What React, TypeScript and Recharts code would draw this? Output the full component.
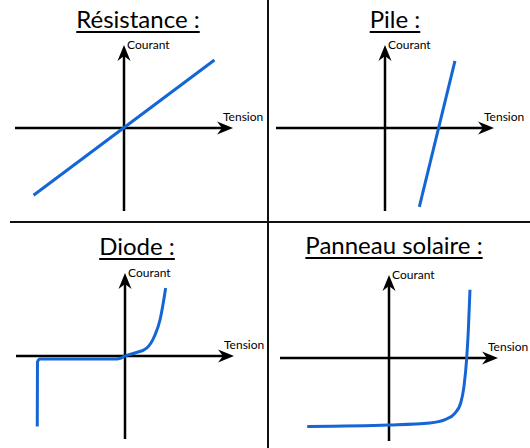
import { LineChart, Line, XAxis, YAxis, ReferenceLine } from 'recharts';

// I-V characteristics, arbitrary units (axes go from -10 to 10)
const resistanceTension = [-8.3, 8.3];
const resistanceCourant = [-8.1, 8.2];

const pileTension = [3.15, 6.42];
const pileCourant = [-9.5, 8.1];

const diodeTension = [-8.05, -8.03, -7.8, -0.76, -0.37, 0, 0.92, 1.99, 2.75, 3.21, 3.51, 3.73];
const diodeCourant = [-8.5, -0.7, -0.36, -0.36, -0.24, 0, 0.36, 0.96, 2.53, 4.34, 6.39, 8.19];

const solaireTension = [-7.5, 0, 3.76, 5.14, 6.06, 6.58, 6.88, 7.13, 7.28, 7.43];
const solaireCourant = [-8.24, -8.07, -7.83, -7.43, -6.63, -5.42, -3.42, 0, 3.41, 8.23];

const titles = ['Résistance :', 'Pile :', 'Diode :', 'Panneau solaire :'];

const BLUE = '#1466d6';
const FONT = 'Lato, "Open Sans", sans-serif';

const toPoints = (t: number[], c: number[]) => t.map((v, i) => ({ tension: v, courant: c[i] }));

type Box = { left: number; top: number; width: number; height: number };

function Arrow(props: any) {
  const { x1, y1, x2, y2, horizontal } = props;
  if (horizontal) {
    const tip = Math.max(x1, x2);
    const start = Math.min(x1, x2);
    const y = y1;
    return (
      <g>
        <line x1={start} y1={y} x2={tip - 8} y2={y} stroke="#000" strokeWidth={2.5} />
        <polygon points={`${tip},${y} ${tip - 16},${y - 6.5} ${tip - 11},${y} ${tip - 16},${y + 6.5}`} fill="#000" />
        <text x={tip - 10} y={y - 10} fontSize={12} fontFamily={FONT} fill="#000" dominantBaseline="middle">
          Tension
        </text>
      </g>
    );
  }
  const tip = Math.min(y1, y2);
  const end = Math.max(y1, y2);
  const x = x1;
  return (
    <g>
      <line x1={x} y1={end} x2={x} y2={tip + 8} stroke="#000" strokeWidth={2.5} />
      <polygon points={`${x},${tip} ${x - 6.5},${tip + 16} ${x},${tip + 11} ${x + 6.5},${tip + 16}`} fill="#000" />
      <text x={x + 3} y={tip + 1} fontSize={12} fontFamily={FONT} fill="#000" dominantBaseline="middle">
        Courant
      </text>
    </g>
  );
}

function Panel({ box, ox, oy, data, curve }: { box: Box; ox: number; oy: number; data: any[]; curve: any }) {
  const margin = {
    left: ox - 109 - box.left,
    right: box.left + box.width - (ox + 109),
    top: oy - 83 - box.top,
    bottom: box.top + box.height - (oy + 83),
  };
  return (
    <div style={{ position: 'absolute', left: box.left, top: box.top }}>
      <LineChart width={box.width} height={box.height} margin={margin}>
        <XAxis type="number" dataKey="tension" domain={[-10, 10]} hide />
        <YAxis type="number" domain={[-10, 10]} hide />
        <ReferenceLine y={0} shape={(p: any) => <Arrow {...p} horizontal />} />
        <ReferenceLine x={0} shape={(p: any) => <Arrow {...p} />} />
        <Line
          data={data}
          dataKey="courant"
          type={curve}
          stroke={BLUE}
          strokeWidth={3}
          dot={false}
          activeDot={false}
          isAnimationActive={false}
        />
      </LineChart>
    </div>
  );
}

function Title({ text, cx, top }: { text: string; cx: number; top: number }) {
  return (
    <div
      style={{
        position: 'absolute',
        left: cx,
        top,
        transform: 'translateX(-50%)',
        whiteSpace: 'nowrap',
        fontSize: 24,
        lineHeight: '24px',
        fontFamily: FONT,
        color: '#000',
        textDecoration: 'underline',
        textDecorationThickness: '2px',
        textUnderlineOffset: '3px',
      }}
    >
      {text}
    </div>
  );
}

export default function App() {
  return (
    <div style={{ position: 'absolute', left: 0, top: 0, width: 530, height: 448, background: '#fff', fontFamily: FONT }}>
      <Panel box={{ left: 0, top: 0, width: 268, height: 222 }} ox={124} oy={128} data={toPoints(resistanceTension, resistanceCourant)} curve="linear" />
      <Panel box={{ left: 268, top: 0, width: 262, height: 222 }} ox={385} oy={128} data={toPoints(pileTension, pileCourant)} curve="linear" />
      <Panel box={{ left: 0, top: 222, width: 268, height: 226 }} ox={125} oy={356} data={toPoints(diodeTension, diodeCourant)} curve="monotone" />
      <Panel box={{ left: 268, top: 222, width: 262, height: 226 }} ox={389} oy={358} data={toPoints(solaireTension, solaireCourant)} curve="monotone" />

      <Title text={titles[0]} cx={138} top={7} />
      <Title text={titles[1]} cx={395} top={7} />
      <Title text={titles[2]} cx={137} top={234} />
      <Title text={titles[3]} cx={394} top={233} />

      <div style={{ position: 'absolute', left: 267, top: 0, width: 2, height: 448, background: '#111' }} />
      <div style={{ position: 'absolute', left: 10, top: 221, width: 520, height: 2, background: '#111' }} />
    </div>
  );
}
